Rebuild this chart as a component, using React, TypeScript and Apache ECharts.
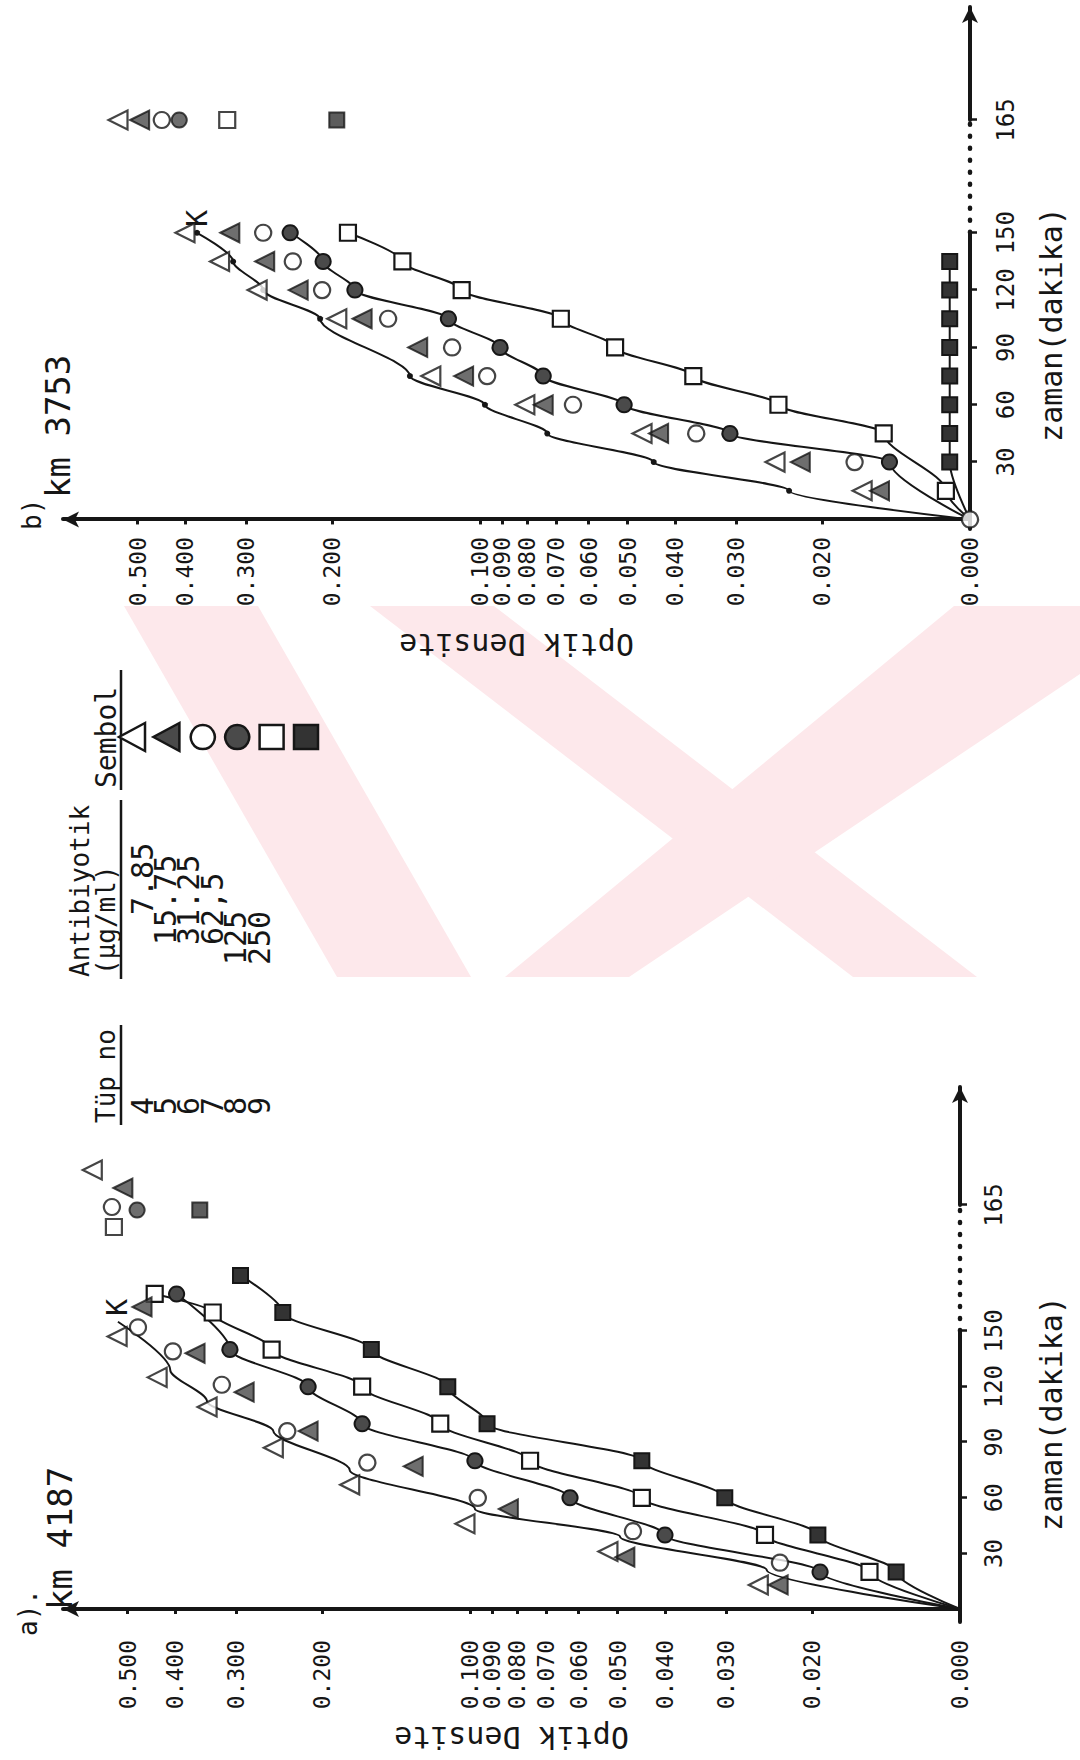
import React, { useEffect, useRef } from "react";
import * as echarts from "echarts";

// ---------------- tick labels ----------------
const densityTicks = [0.5, 0.4, 0.3, 0.2, 0.1, 0.09, 0.08, 0.07, 0.06, 0.05, 0.04, 0.03, 0.02, 0];
const densityTickLabels = ["0.500", "0.400", "0.300", "0.200", "0.100", "0.090", "0.080", "0.070", "0.060", "0.050", "0.040", "0.030", "0.020", "0.000"];
const timeTicks = [30, 60, 90, 120, 150];
const lateTimeTicks = [165];
const lateTime = 165;

// ---------------- a) km 4187  [zaman (dakika), optik densite] ----------------
const aK = [[0, 0], [21, 0.0248], [39, 0.0494], [54, 0.0977], [75, 0.176], [96, 0.252], [112, 0.344], [129, 0.409], [155, 0.523]];
const aTriOpen = [[13, 0.0258], [31, 0.0523], [46, 0.1024], [67, 0.176], [87, 0.252], [109, 0.344], [125, 0.435], [147, 0.525]];
const aTriFilled = [[13, 0.0235], [28, 0.0483], [54, 0.0835], [77, 0.1306], [96, 0.214], [117, 0.289], [138, 0.364], [163, 0.467]];
const aCircleOpen = [[25, 0.0233], [42, 0.0465], [60, 0.0964], [79, 0.162], [96, 0.236], [121, 0.321], [139, 0.404], [152, 0.476]];
const aCircleFilled = [[0, 0], [20, 0.0193], [40, 0.04], [60, 0.0625], [80, 0.0977], [100, 0.166], [120, 0.214], [140, 0.309], [170, 0.397]];
const aSquareOpen = [[0, 0], [20, 0.0153], [40, 0.025], [60, 0.0446], [80, 0.0754], [100, 0.115], [120, 0.166], [140, 0.254], [160, 0.335], [170, 0.44]];
const aSquareFilled = [[0, 0], [20, 0.0135], [40, 0.0195], [60, 0.0302], [80, 0.0446], [100, 0.0923], [120, 0.111], [140, 0.159], [160, 0.241], [180, 0.294]];
// readings at 165 min, order: Δ ▲ ○ ● □ ■
const aLate = [0.59, 0.511, 0.538, 0.478, 0.533, 0.356];

// ---------------- b) km 3753 ----------------
const bK = [[0, 0], [15, 0.0234], [30, 0.0442], [45, 0.0729], [60, 0.0977], [75, 0.139], [105, 0.212], [120, 0.277], [135, 0.319], [150, 0.378]];
const bTriOpen = [[15, 0.0166], [30, 0.025], [45, 0.0467], [60, 0.081], [75, 0.126], [105, 0.196], [120, 0.285], [135, 0.34], [150, 0.4]];
const bTriFilled = [[15, 0.0153], [30, 0.0222], [45, 0.0432], [60, 0.0743], [75, 0.108], [90, 0.134], [105, 0.174], [120, 0.235], [135, 0.275], [150, 0.324]];
const bCircleOpen = [[0, 0], [30, 0.0172], [45, 0.0362], [60, 0.0646], [75, 0.0967], [90, 0.114], [105, 0.154], [120, 0.21], [135, 0.241], [150, 0.277]];
const bCircleFilled = [[0, 0], [30, 0.0146], [45, 0.0309], [60, 0.0508], [75, 0.0743], [90, 0.091], [105, 0.116], [120, 0.18], [135, 0.209], [150, 0.244]];
const bSquareOpen = [[0, 0], [15, 0.0112], [45, 0.015], [60, 0.0246], [75, 0.0367], [90, 0.053], [105, 0.0684], [120, 0.109], [135, 0.144], [150, 0.186]];
const bSquareFilled = [[0, 0], [30, 0.011], [45, 0.011], [60, 0.011], [75, 0.011], [90, 0.011], [105, 0.011], [120, 0.011], [135, 0.011]];
const bLate = [0.548, 0.495, 0.446, 0.411, 0.328, 0.196];

// ---------------- legend table ----------------
const tubeNumbers = ["4", "5", "6", "7", "8", "9"];
const antibioticDoses = ["7.85", "15.75", "31.25", "62,5", "125", "250"];

// ---------------- styling ----------------
const INK = "#161616";
const GREY = "#4a4a4a";
const MONO = "'DejaVu Sans Mono', 'Liberation Mono', monospace";
const PINK = "#fde8eb";

// log paper: the bottom line "0.000" is drawn where 0.01 would be
const FLOOR = -2;
const od = (v: number) => (v <= 0.01 ? FLOOR : Math.log10(v));
const densityLabel = (val: number) => {
  let best = 0;
  let bd = Infinity;
  densityTicks.forEach((d, i) => {
    const dd = Math.abs(od(d) - val);
    if (dd < bd) { bd = dd; best = i; }
  });
  return densityTickLabels[best];
};

const SYM = [
  { symbol: "triangle", symbolSize: 19, itemStyle: { color: "#ffffff", borderColor: INK, borderWidth: 2.2 } },
  { symbol: "triangle", symbolSize: 19, itemStyle: { color: GREY, borderColor: INK, borderWidth: 2 } },
  { symbol: "circle", symbolSize: 16, itemStyle: { color: "#ffffff", borderColor: INK, borderWidth: 2.2 } },
  { symbol: "circle", symbolSize: 15, itemStyle: { color: GREY, borderColor: INK, borderWidth: 2 } },
  { symbol: "rect", symbolSize: 16, itemStyle: { color: "#ffffff", borderColor: INK, borderWidth: 2.2 } },
  { symbol: "rect", symbolSize: 15, itemStyle: { color: "#333333", borderColor: INK, borderWidth: 2 } },
];
const aLateOffsets = [35, 17, -2, -5, -22, -5];

// geometry of the two panels (drawn in landscape, then the page is turned)
const A = { xi: 0, li: 1, left: 138, width: 417, tMin: -7, tMax: 218, lateLeft: 555, lateWidth: 118, lateMax: 228.7, bottom: 960, labelMargin: 18, timeMargin: 22, nameGap: 76 };
const B = { xi: 2, li: 3, left: 1231, width: 409, tMin: -5, tMax: 209, lateLeft: 1640, lateWidth: 113, lateMax: 224.1, bottom: 970, labelMargin: 8, timeMargin: 24, nameGap: 66 };
const TOP = 63;
const PX_PER_DECADE = 490;

function toPts(arr: number[][], hideOrigin: boolean) {
  return arr.map(([t, v]) => (hideOrigin && t === 0 && v === 0 ? { value: [t, od(v)], symbol: "none" } : [t, od(v)]));
}

function panelAxes(P: any) {
  const dMax = FLOOR + (P.bottom - TOP) / PX_PER_DECADE;
  const grids = [
    { left: P.left, top: TOP, width: P.width, height: P.bottom - TOP, outerBoundsMode: "none", containLabel: false },
    { left: P.lateLeft, top: TOP, width: P.lateWidth, height: P.bottom - TOP, outerBoundsMode: "none", containLabel: false },
  ];
  const xAxes = [
    {
      type: "value", gridIndex: P.xi, min: P.tMin, max: P.tMax,
      axisLine: { show: false },
      axisTick: { show: true, customValues: timeTicks, length: 7, lineStyle: { color: INK, width: 2.5 } },
      axisLabel: { show: true, customValues: timeTicks, fontFamily: MONO, fontSize: 24, color: INK, margin: P.timeMargin },
      splitLine: { show: false },
      name: "zaman(dakika)", nameLocation: "middle", nameGap: P.nameGap,
      nameTextStyle: { fontFamily: MONO, fontSize: 30, color: INK },
    },
    {
      type: "value", gridIndex: P.xi + 1, min: lateTime, max: P.lateMax,
      axisLine: { show: true, lineStyle: { color: INK, width: 4 }, symbol: ["none", "arrow"], symbolSize: [12, 16] },
      axisTick: { show: true, customValues: lateTimeTicks, length: 7, lineStyle: { color: INK, width: 2.5 } },
      axisLabel: { show: true, customValues: lateTimeTicks, fontFamily: MONO, fontSize: 24, color: INK, margin: P.timeMargin },
      splitLine: { show: false },
    },
  ];
  const yAxes = [
    {
      type: "value", gridIndex: P.xi, min: FLOOR, max: dMax,
      axisLine: { show: true, lineStyle: { color: INK, width: 4 }, symbol: ["none", "arrow"], symbolSize: [12, 16] },
      axisTick: { show: true, customValues: densityTicks.map(od), length: 5, lineStyle: { color: INK, width: 3 } },
      axisLabel: { show: true, customValues: densityTicks.map(od), formatter: densityLabel, fontFamily: MONO, fontSize: 23, color: INK, margin: P.labelMargin },
      splitLine: { show: false },
      name: "Optik Densite", nameLocation: "middle", nameGap: 100, nameRotate: 90,
      nameTextStyle: { fontFamily: MONO, fontSize: 30, color: INK },
    },
    { type: "value", gridIndex: P.xi + 1, min: FLOOR, max: dMax, show: false },
  ];
  return { grids, xAxes, yAxes };
}

function panelSeries(P: any, d: any) {
  const base = { xAxisIndex: P.xi, yAxisIndex: P.xi, clip: false, silent: true };
  const line = (arr: number[][], s: number, extra: any = {}) => ({
    ...base, type: "line", data: toPts(arr, true), smooth: 0.3, smoothMonotone: "x",
    lineStyle: { color: INK, width: 2 }, z: 4, ...SYM[s], ...extra,
  });
  const scatter = (arr: number[][], s: number) => ({ ...base, type: "scatter", data: toPts(arr, false), z: 5, ...SYM[s] });
  const axisSeg = (from: number, to: number, dotted: boolean) => ({
    ...base, type: "line", data: [[from, FLOOR], [to, FLOOR]], symbol: "none", z: 3,
    lineStyle: { color: INK, width: dotted ? 4.5 : 4, type: dotted ? [1, 11] : "solid", cap: "round" },
  });
  const late = d.late.map((v: number, i: number) => ({
    xAxisIndex: P.li, yAxisIndex: P.li, clip: false, silent: true, type: "scatter",
    data: [[lateTime, od(v)]], z: 5, ...SYM[i],
    symbolOffset: [d.lateOffsets ? d.lateOffsets[i] : 0, 0],
  }));
  return [
    axisSeg(P.tMin, timeTicks[timeTicks.length - 1], false),
    axisSeg(timeTicks[timeTicks.length - 1], P.tMax, true),
    {
      ...base, type: "line", data: toPts(d.K, true), smooth: 0.3, smoothMonotone: "x",
      symbol: d.kDots ? "circle" : "none", symbolSize: 6, itemStyle: { color: INK },
      lineStyle: { color: INK, width: 2 }, z: 4,
      endLabel: { show: true, formatter: "K", fontFamily: MONO, fontSize: 28, color: INK, distance: 6 },
    },
    scatter(d.triOpen, 0),
    scatter(d.triFilled, 1),
    scatter(d.circleOpen, 2),
    line(d.circleFilled, 3),
    line(d.squareOpen, 4),
    line(d.squareFilled, 5),
    ...late,
  ];
}

function txt(text: string, x: number, y: number, size: number, extra: any = {}) {
  return {
    type: "text", x, y, z: 20, silent: true,
    style: { text, fontSize: size, fontFamily: MONO, fill: INK, align: "left", verticalAlign: "middle", textAlign: "left", textVerticalAlign: "middle", ...extra },
  };
}
function hline(x1: number, x2: number, y: number) {
  return { type: "line", z: 20, silent: true, shape: { x1, y1: y, x2, y2: y }, style: { stroke: INK, lineWidth: 2.5 } };
}

function legendSymbol(i: number, cx: number, cy: number) {
  const fill = [null, GREY, null, GREY, null, "#333333"][i] || "#ffffff";
  const style = { fill, stroke: INK, lineWidth: 2.5 };
  if (i < 2) return { type: "polygon", z: 20, silent: true, shape: { points: [[cx, cy - 15], [cx - 14, cy + 11], [cx + 14, cy + 11]] }, style };
  if (i < 4) return { type: "circle", z: 20, silent: true, shape: { cx, cy, r: 12 }, style };
  return { type: "rect", z: 20, silent: true, shape: { x: cx - 12, y: cy - 12, width: 24, height: 24 }, style };
}

export default function App() {
  const ref = useRef<HTMLDivElement>(null);
  useEffect(() => {
    if (!ref.current) return;
    const chart = echarts.init(ref.current, undefined, { renderer: "svg", width: 1760, height: 1080 });
    const pa = panelAxes(A);
    const pb = panelAxes(B);

    const doseStart = [845, 815, 815, 815, 795, 795];
    const graphic: any[] = [
      // faint watermark
      { type: "polygon", z: -5, silent: true, shape: { points: [[1154, 370], [1154, 494], [783, 977], [783, 853]] }, style: { fill: PINK } },
      { type: "polygon", z: -5, silent: true, shape: { points: [[1154, 954], [1154, 1080], [1086, 1080], [783, 629], [783, 505]] }, style: { fill: PINK } },
      { type: "polygon", z: -5, silent: true, shape: { points: [[1154, 124], [1154, 258], [783, 471], [783, 337]] }, style: { fill: PINK } },
      // panel titles
      txt("a).", 124, 28, 26),
      txt("km 4187", 150, 60, 34),
      txt("b)", 1230, 32, 26),
      txt("km 3753", 1262, 58, 34),
      // legend table
      txt("Tüp no", 637, 106, 26),
      hline(635, 735, 121),
      txt("Antibiyotik", 783, 80, 26),
      txt("(µg/ml)", 785, 106, 26),
      hline(781, 960, 121),
      txt("Sembol", 972, 106, 28),
      hline(970, 1090, 121),
      ...tubeNumbers.map((n, i) => txt(n, 654, 142 + 23.4 * i, 30, { align: "center", textAlign: "center" })),
      ...antibioticDoses.map((s, i) => txt(s, doseStart[i], 142 + 23.4 * i, 30)),
      ...SYM.map((_, i) => legendSymbol(i, 1023, 134 + 34.4 * i)),
    ];

    chart.setOption({
      animation: false,
      backgroundColor: "#ffffff",
      textStyle: { fontFamily: MONO, color: INK },
      grid: [...pa.grids, ...pb.grids],
      xAxis: [...pa.xAxes, ...pb.xAxes],
      yAxis: [...pa.yAxes, ...pb.yAxes],
      series: [
        ...panelSeries(A, {
          K: aK, kDots: false, triOpen: aTriOpen, triFilled: aTriFilled, circleOpen: aCircleOpen,
          circleFilled: aCircleFilled, squareOpen: aSquareOpen, squareFilled: aSquareFilled, late: aLate, lateOffsets: aLateOffsets,
        }),
        ...panelSeries(B, {
          K: bK, kDots: true, triOpen: bTriOpen, triFilled: bTriFilled, circleOpen: bCircleOpen,
          circleFilled: bCircleFilled, squareOpen: bSquareOpen, squareFilled: bSquareFilled, late: bLate, lateOffsets: null,
        }),
      ],
      graphic,
    });
    return () => chart.dispose();
  }, []);

  return (
    <div style={{ position: "absolute", left: 0, top: 0, width: 1080, height: 1760, overflow: "hidden", background: "#ffffff" }}>
      <div
        ref={ref}
        style={{
          position: "absolute", left: 0, top: 0, width: 1760, height: 1080,
          transformOrigin: "0 0", transform: "translateY(1760px) rotate(-90deg)",
        }}
      />
    </div>
  );
}
